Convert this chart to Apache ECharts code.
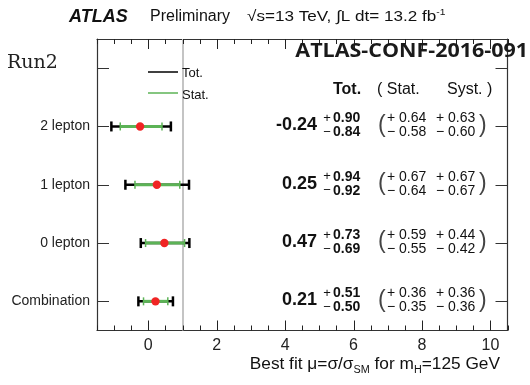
<!DOCTYPE html>
<html><head><meta charset="utf-8">
<script src="https://cdn.jsdelivr.net/npm/echarts@6/dist/echarts.min.js"></script>
<style>html,body{margin:0;padding:0;background:#fff}#c{width:530px;height:385px}</style>
</head><body><div id="c"></div>
<script>
// ---- data ----
const categories = ['Combination', '0 lepton', '1 lepton', '2 lepton', ''];
const central  = [0.21, 0.47, 0.25, -0.24];
const totUp    = [0.51, 0.73, 0.94, 0.90];
const totDown  = [0.50, 0.69, 0.92, 0.84];
const statUp   = [0.36, 0.59, 0.67, 0.64];
const statDown = [0.35, 0.55, 0.64, 0.58];
const systUp   = [0.36, 0.44, 0.67, 0.63];
const systDown = [0.36, 0.42, 0.67, 0.60];
const xTickLabels = ['-1.5','-1','-0.5','0','0.5','1','1.5','2','2.5','3','3.5','4','4.5',
                     '5','5.5','6','6.5','7','7.5','8','8.5','9','9.5','10','10.5'];
const majorTicks = ['0','2','4','6','8','10'];
const smValue = 1;
const xMin = -1.5, xMax = 10.5;

// ---- build ----
const GREEN = '#5cb356', RED = '#f02424', FONT = 'Liberation Sans';
const seriesData = central.map((c, i) => [i, c, c - totDown[i], c + totUp[i], c - statDown[i], c + statUp[i]]);
const tickValues = xTickLabels.map(Number);
const majorValues = majorTicks.map(Number);
const f2 = v => v.toFixed(2);
const isMajor = (i, v) => majorTicks.indexOf(String(v)) >= 0;

function renderItem(params, api) {
  const i = params.dataIndex;
  const yi = api.value(0);
  const c = api.coord([api.value(1), yi]);
  const tl = api.coord([api.value(2), yi]);
  const th = api.coord([api.value(3), yi]);
  const sl = api.coord([api.value(4), yi]);
  const sh = api.coord([api.value(5), yi]);
  const y = c[1];
  const blk = {stroke: '#000', lineWidth: 2.5};
  const grn = {stroke: GREEN, lineWidth: 3};
  const ch = [
    {type: 'line', shape: {x1: tl[0], y1: y, x2: th[0], y2: y}, style: blk},
    {type: 'line', shape: {x1: tl[0], y1: y - 5, x2: tl[0], y2: y + 5}, style: blk},
    {type: 'line', shape: {x1: th[0], y1: y - 5, x2: th[0], y2: y + 5}, style: blk},
    {type: 'line', shape: {x1: sl[0], y1: y, x2: sh[0], y2: y}, style: grn},
    {type: 'line', shape: {x1: sl[0], y1: y - 4, x2: sl[0], y2: y + 4}, style: {stroke: GREEN, lineWidth: 1.5}},
    {type: 'line', shape: {x1: sh[0], y1: y - 4, x2: sh[0], y2: y + 4}, style: {stroke: GREEN, lineWidth: 1.5}},
    {type: 'circle', shape: {cx: c[0], cy: y, r: 4.2}, style: {fill: RED}}
  ];
  const t = (text, x, yy, size, weight, align, fill) => ({
    type: 'text', style: {text: text, x: x, y: yy, fill: fill || '#111', align: align || 'left', verticalAlign: 'middle',
      font: (weight || 'normal') + ' ' + size + 'px "' + FONT + '"'}
  });
  ch.push(t(f2(central[i]), 317, y - 1, 18, 'bold', 'right'));
  ch.push(t('+', 327, y - 8, 13, 'normal', 'center'));
  ch.push(t('\u2212', 327, y + 6, 13, 'normal', 'center'));
  ch.push(t(f2(totUp[i]), 333, y - 8, 14, 'bold'));
  ch.push(t(f2(totDown[i]), 333, y + 6, 14, 'bold'));
  ch.push(t('(', 378, y - 1, 23, 'normal', 'left', '#444'));
  ch.push(t('+ ' + f2(statUp[i]), 387, y - 8, 14));
  ch.push(t('\u2212 ' + f2(statDown[i]), 387, y + 6, 14));
  ch.push(t('+ ' + f2(systUp[i]), 436, y - 8, 14));
  ch.push(t('\u2212 ' + f2(systDown[i]), 436, y + 6, 14));
  ch.push(t(')', 479, y - 1, 23, 'normal', 'left', '#444'));

  // x-axis ticks on top and bottom frame, drawn once (first item) from the tick value list
  if (i === 0) {
    const cs = params.coordSys;
    const b = cs.y + cs.height, tp = cs.y;
    tickValues.forEach(v => {
      const x = Math.round(api.coord([v, 0])[0]) + 0.5;
      const len = majorValues.indexOf(v) >= 0 ? 10 : 5;
      const st = {stroke: '#222', lineWidth: 1};
      ch.push({type: 'line', shape: {x1: x, y1: b, x2: x, y2: b - len}, style: st});
      ch.push({type: 'line', shape: {x1: x, y1: tp, x2: x, y2: tp + len}, style: st});
    });
  }
  return {type: 'group', children: ch};
}

const axisLineStyle = {color: '#333', width: 1.2};
const valX = (pos) => ({
  type: 'value', position: pos, min: xMin, max: xMax,
  axisLine: {show: true, onZero: false, lineStyle: axisLineStyle},
  axisTick: {show: false}, axisLabel: {show: false}, splitLine: {show: false}
});
const catY = (pos, showLabel) => ({
  type: 'category', position: pos, data: categories, boundaryGap: true,
  axisLine: {show: true, onZero: false, lineStyle: axisLineStyle},
  axisTick: {show: true, inside: true, alignWithLabel: true, length: 12, lineStyle: {color: '#333'}},
  axisLabel: {show: showLabel, fontSize: 14, fontFamily: FONT, color: '#222', margin: 7},
  splitLine: {show: false}
});

const g = (text, x, y, font, extra, sx) => Object.assign({
  type: 'text', x: x, y: y, z: 100, scaleX: sx || 1,
  style: Object.assign({text: text, font: font, fill: '#111', verticalAlign: 'middle'}, extra || {})
});

const option = {
  animation: false,
  backgroundColor: '#fff',
  grid: {left: 97, right: 22.5, top: 39, bottom: 54.5},
  xAxis: [
    valX('bottom'), valX('top'),
    {type: 'category', position: 'bottom', boundaryGap: false, data: xTickLabels,
     axisLine: {show: false}, axisTick: {show: false},
     axisLabel: {show: true, interval: isMajor, fontSize: 16, fontFamily: FONT, color: '#222', margin: 7},
     splitLine: {show: false}}
  ],
  yAxis: [catY('left', true), catY('right', false)],
  series: [
    {
      type: 'line', xAxisIndex: 0, yAxisIndex: 0, data: [], silent: true,
      markLine: {silent: true, symbol: 'none', label: {show: false},
        lineStyle: {color: '#c4c4c4', width: 2, type: 'solid'}, data: [{xAxis: smValue}]}
    },
    {type: 'custom', xAxisIndex: 0, yAxisIndex: 0, renderItem: renderItem, data: seriesData, clip: false, z: 10}
  ],
  graphic: [
    g('ATLAS', 69, 17, 'italic bold 18px "Liberation Sans"'),
    g('Preliminary', 150, 17, 'normal 16px "Liberation Sans"'),
    g('{a|\u221As=13 TeV, \u222BL dt= 13.2 fb}{p|-1}', 247, 17, '', {
      rich: {a: {font: 'normal 15px "Liberation Sans"', fill: '#111'},
             p: {font: 'normal 9px "Liberation Sans"', fill: '#111', padding: [0, 0, 9, 0]}}}, 1.14),
    g('Run2', 7, 63, 'normal 19px "DejaVu Serif"', {fill: '#222'}),
    g('ATLAS-CONF-2016-091', 528, 52, 'bold 19px "Open Sans"', {align: 'right', fill: '#1a1a1a'}, 1.13),
    {type: 'line', z: 100, shape: {x1: 148, y1: 72, x2: 178, y2: 72}, style: {stroke: '#000', lineWidth: 1.5}},
    {type: 'line', z: 100, shape: {x1: 148, y1: 93, x2: 178, y2: 93}, style: {stroke: GREEN, lineWidth: 1.5}},
    g('Tot.', 182, 73, 'normal 13px "Liberation Sans"'),
    g('Stat.', 182, 95, 'normal 13px "Liberation Sans"'),
    g('Tot.', 333, 90, 'bold 16px "Liberation Sans"'),
    g('( Stat.', 377, 90, 'normal 16px "Liberation Sans"'),
    g('Syst. )', 447, 90, 'normal 16px "Liberation Sans"'),
    g('{a|Best fit \u03BC=\u03C3/\u03C3}{s|SM}{a| for m}{s|H}{a|=125 GeV}', 500, 365, '', {
      align: 'right',
      rich: {a: {font: 'normal 16px "Liberation Sans"', fill: '#111'},
             s: {font: 'normal 10px "Liberation Sans"', fill: '#111', padding: [10, 0, 0, 0]}}}, 1.08)
  ]
};
echarts.init(document.getElementById('c'), null, {renderer: 'canvas'}).setOption(option);
</script>
</body></html>
